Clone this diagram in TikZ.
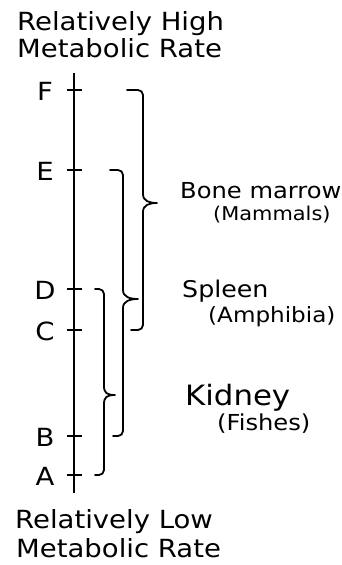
\documentclass[tikz,border=0pt]{standalone}
\usepackage{fontspec}
\setmainfont{DejaVu Sans}[FakeStretch=1.1]
\usetikzlibrary{calc}
\tikzset{
  axisline/.style={line width=1.8pt},
  tickmark/.style={line width=1.5pt},
  bracket/.style={line width=1.8pt,line cap=round,line join=round},
  ticklabel/.style={font=\fontsize{25}{28}\selectfont,inner sep=0pt},
  ratelabel/.style={font=\fontsize{25}{27}\selectfont,anchor=base west,inner sep=0pt},
  organ/.style={font=\fontsize{#1}{#1}\selectfont,anchor=base west,inner sep=0pt},
  organ/.default=23,
}

\begin{document}
\begin{tikzpicture}[x=1pt,y=-1pt]
  \useasboundingbox (0,0) rectangle (342,565);

  % metabolic rate scale
  \node[ratelabel] (high1) at (17,30) {Relatively High};
  \node[ratelabel] (high2) at (17,57) {Metabolic Rate};
  \node[ratelabel] (low1)  at (15,528) {Relatively Low};
  \node[ratelabel] (low2)  at (16,557) {Metabolic Rate};

  \coordinate (top) at (74,73);
  \coordinate (bot) at (74,493);
  \draw[axisline] (top) -- (bot);

  \foreach \name/\y in {F/90, E/170, D/289, C/330, B/436, A/475}{
    \coordinate (t\name) at (74,\y);
    \draw[tickmark] ($(t\name)+(-7,0)$) -- ($(t\name)+(8,0)$);
    \node[ticklabel] (\name) at (45,\y+1) {\name};
  }

  % ranges of the blood forming organs
  \foreach \ya/\yb/\xa/\xb/\xv/\xt/\ym in {
    90/330/127/131/143/157/203,
    170/436/110/113/123/138/299,
    289/475/95/95/104/115/395}{
    \draw[bracket] (\xa,\ya) -- (\xv-5,\ya) to[out=0,in=90] (\xv,\ya+5)
      -- (\xv,\ym-9) .. controls (\xv,\ym-2) and (\xt-8,\ym) .. (\xt,\ym)
      .. controls (\xt-8,\ym) and (\xv,\ym+2) .. (\xv,\ym+9)
      -- (\xv,\yb-5) to[out=-90,in=0] (\xv-5,\yb) -- (\xb,\yb);
  }

  \node[organ=22] (marrow)  at (180,198) {Bone marrow};
  \node[organ=19] (mammals) at (213,220) {(Mammals)};
  \node[organ=23] (spleen)  at (182,297) {Spleen};
  \node[organ=21] (amphib)  at (208,322) {(Amphibia)};
  \node[organ=28] (kidney)  at (185,405) {Kidney};
  \node[organ=22] (fishes)  at (217,430) {(Fishes)};

\end{tikzpicture}
\end{document}
